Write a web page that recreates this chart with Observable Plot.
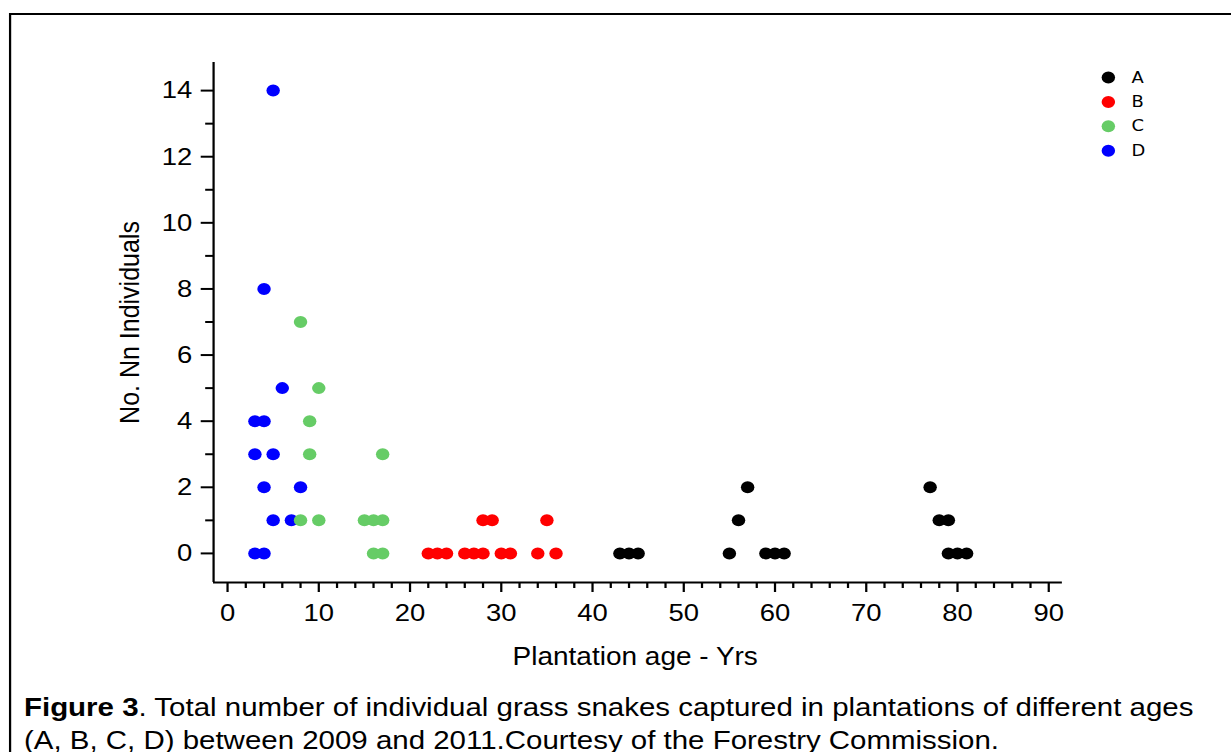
<!DOCTYPE html>
<html><head><meta charset="utf-8">
<script src="https://cdn.jsdelivr.net/npm/d3@7"></script>
<script src="https://cdn.jsdelivr.net/npm/@observablehq/plot@0.6"></script>
<style>
html,body{margin:0;padding:0;background:#fff;overflow:hidden;width:1231px;height:752px;}
#stage{position:absolute;left:0;top:0;width:1099px;height:752px;transform:scaleX(1.12);transform-origin:0 0;}
#border{position:absolute;left:8px;top:13.3px;width:1300px;height:900px;border:2.4px solid #000;}
#chart{position:absolute;left:0;top:0;}
#caption{position:absolute;left:21.4px;top:690.5px;font-family:"Liberation Sans",Arial,sans-serif;font-size:26.3px;line-height:33px;color:#000;white-space:nowrap;}
</style></head>
<body><div id="stage"><div id="border"></div><div id="chart"></div><div id="caption"></div></div>
<script>
// Series (plantation groups)
const seriesNames = ["A", "B", "C", "D"];
const seriesColors = ["#000000", "#ff0000", "#66cc66", "#0000ff"];

// Plantation age (years) and number of individuals, per series
const ageA = [43, 44, 45, 55, 56, 57, 59, 60, 61, 77, 78, 79, 79, 80, 81];
const countA = [0, 0, 0, 0, 1, 2, 0, 0, 0, 2, 1, 1, 0, 0, 0];

const ageB = [22, 23, 24, 26, 27, 28, 30, 31, 34, 36, 28, 29, 35];
const countB = [0, 0, 0, 0, 0, 0, 0, 0, 0, 0, 1, 1, 1];

const ageC = [8, 10, 9, 9, 17, 8, 10, 15, 16, 17, 16, 17];
const countC = [7, 5, 4, 3, 3, 1, 1, 1, 1, 1, 0, 0];

const ageD = [5, 4, 6, 3, 4, 3, 5, 4, 8, 5, 7, 3, 4];
const countD = [14, 8, 5, 4, 4, 3, 3, 2, 2, 1, 1, 0, 0];

// Axis ticks and labels
const xMajorTicks = [0, 10, 20, 30, 40, 50, 60, 70, 80, 90];
const xMinorTicks = [2, 4, 6, 8, 12, 14, 16, 18, 22, 24, 26, 28, 32, 34, 36, 38, 42, 44, 46, 48, 52, 54, 56, 58, 62, 64, 66, 68, 72, 74, 76, 78, 82, 84, 86, 88];
const yMajorTicks = [0, 2, 4, 6, 8, 10, 12, 14];
const yMinorTicks = [1, 3, 5, 7, 9, 11, 13];
const xDomain = [-1.53, 91.5];
const yDomain = [-0.88, 14.85];
const xLabel = "Plantation age - Yrs";
const yLabel = "No. Nn Individuals";
const captionBold = "Figure 3";
const captionLine1 = ". Total number of individual grass snakes captured in plantations of different ages";
const captionLine2 = "(A, B, C, D) between 2009 and 2011.Courtesy of the Forestry Commission.";

// Build table (draw order: D, C, B, A)
const groups = {A: [ageA, countA], B: [ageB, countB], C: [ageC, countC], D: [ageD, countD]};
const data = [];
for (const s of ["D", "C", "B", "A"]) {
  const [ages, counts] = groups[s];
  ages.forEach((a, i) => data.push({series: s, age: a, count: counts[i]}));
}

const legendMarks = seriesNames.flatMap((s, i) => [
  Plot.dot([s], {frameAnchor: "top-right", dx: 41, dy: 15 + i * 24.4, r: 6, fill: seriesColors[i]}),
  Plot.text([s], {frameAnchor: "top-right", dx: 61.6, dy: 15 + i * 24.4, text: d => d, textAnchor: "start", lineAnchor: "middle", fontSize: 16, fontFamily: "DejaVu Sans", fill: "#000"})
]);

const chart = Plot.plot({
  width: 1099,
  height: 690,
  marginLeft: 190.2,
  marginRight: 150.9,
  marginTop: 62,
  marginBottom: 108,
  style: {fontFamily: "Liberation Sans, Arial, sans-serif", fontSize: "24px", background: "transparent", color: "#000"},
  x: {domain: xDomain},
  y: {domain: yDomain},
  color: {domain: seriesNames, range: seriesColors},
  marks: [
    Plot.axisX({ticks: xMajorTicks, tickSize: 10, tickPadding: 11, fontSize: 24.5, strokeWidth: 2, label: null}),
    Plot.axisX({ticks: xMinorTicks, tickSize: 6, text: null, strokeWidth: 2, label: null}),
    Plot.axisY({ticks: yMajorTicks, tickSize: 11, tickPadding: 8, fontSize: 24.5, strokeWidth: 2, label: null}),
    Plot.axisY({ticks: yMinorTicks, tickSize: 7, text: null, strokeWidth: 2, label: null}),
    Plot.ruleY([yDomain[0]], {stroke: "#000", strokeWidth: 2}),
    Plot.ruleX([xDomain[0]], {stroke: "#000", strokeWidth: 2}),
    Plot.text([xLabel], {frameAnchor: "bottom", dy: 74, dx: -2.5, text: d => d, textAnchor: "middle", lineAnchor: "middle", fontSize: 25}),
    Plot.text([yLabel], {frameAnchor: "left", dx: -75, text: d => d, rotate: -90, textAnchor: "middle", lineAnchor: "middle", fontSize: 25}),
    Plot.dot(data, {x: "age", y: "count", fill: "series", r: 6}),
    ...legendMarks
  ]
});
document.getElementById("chart").appendChild(chart);

const cap = document.getElementById("caption");
const b = document.createElement("b");
b.textContent = captionBold;
cap.appendChild(b);
cap.appendChild(document.createTextNode(captionLine1));
cap.appendChild(document.createElement("br"));
cap.appendChild(document.createTextNode(captionLine2));
</script>
</body></html>
